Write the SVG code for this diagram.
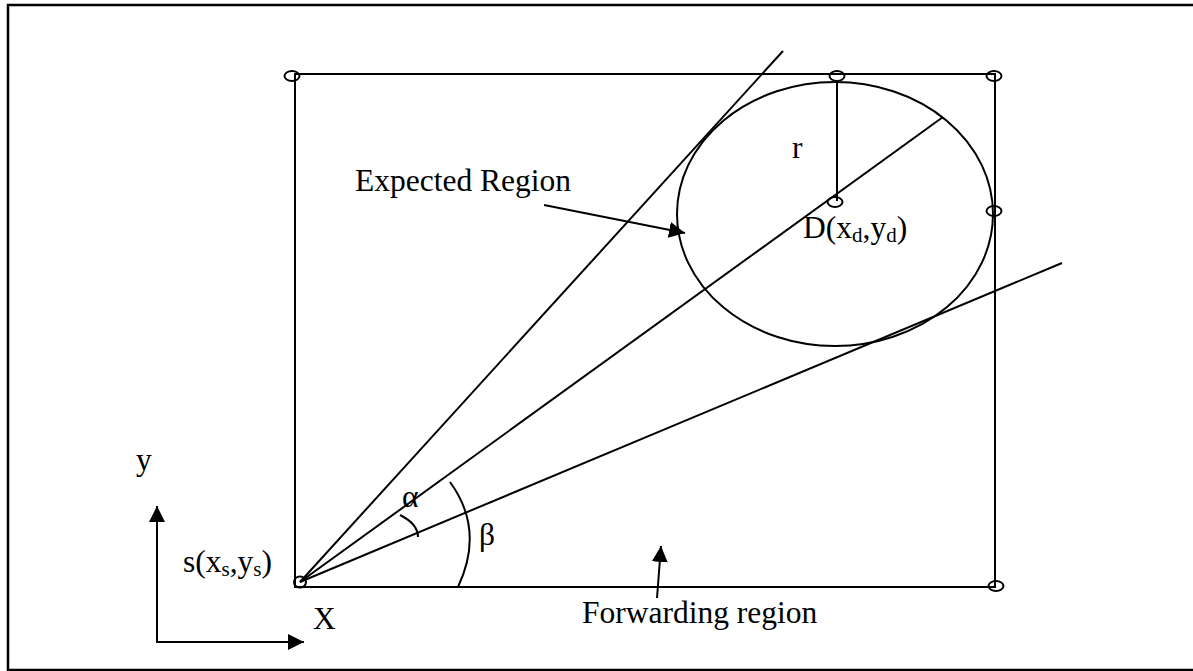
<svg xmlns="http://www.w3.org/2000/svg" width="1193" height="671" viewBox="0 0 1193 671">
<style>
.ln{stroke:#000;stroke-width:2;fill:none}
.pt{stroke:#000;stroke-width:2;fill:none}
.t{font-family:"Liberation Serif","Times New Roman",serif;font-size:31.5px;fill:#000}
.sub{font-size:21px}
</style>
<defs>
<marker id="ah" markerUnits="userSpaceOnUse" markerWidth="18" markerHeight="16" refX="16" refY="8" orient="auto">
<path d="M0,0 L16,8 L0,16 Z" fill="#000"/>
</marker>
</defs>
<rect width="1193" height="671" fill="#fff"/>
<rect x="8" y="5" width="1195" height="665" fill="none" stroke="#000" stroke-width="2.5"/>
<g id="region">
<rect x="295" y="74" width="700" height="513" class="ln"/>
</g>
<g id="expected-region">
<ellipse cx="835" cy="214" rx="158" ry="132" class="ln"/>
</g>
<g id="connectors">
<line x1="300" y1="582" x2="783" y2="51" class="ln"/>
<line x1="300" y1="582" x2="943" y2="117" class="ln"/>
<line x1="300" y1="582" x2="1062" y2="263" class="ln"/>
<line x1="837" y1="80" x2="837" y2="201" class="ln"/>
<path d="M400,515 Q418,524 418,537" class="ln"/>
<path d="M450,482 Q485,530 458,587" class="ln"/>
<line x1="544" y1="205" x2="685" y2="233" class="ln" marker-end="url(#ah)"/>
<line x1="657" y1="598" x2="661" y2="546" class="ln" marker-end="url(#ah)"/>
<polyline points="157,506 157,642 304,642" class="ln"/>
<line x1="157" y1="560" x2="157" y2="506" class="ln" marker-end="url(#ah)"/>
<line x1="250" y1="642" x2="304" y2="642" class="ln" marker-end="url(#ah)"/>
</g>
<g id="points">
<ellipse cx="292" cy="76" rx="7.5" ry="5" class="pt"/>
<ellipse cx="837" cy="76" rx="7.5" ry="5" class="pt"/>
<ellipse cx="994" cy="76" rx="7.5" ry="5" class="pt"/>
<ellipse cx="994" cy="211" rx="7.5" ry="5" class="pt"/>
<ellipse cx="835" cy="202" rx="7.5" ry="5" class="pt"/>
<ellipse cx="300" cy="582" rx="6" ry="5.5" class="pt"/>
<ellipse cx="996" cy="586" rx="7.5" ry="5" class="pt"/>
</g>
<g id="labels">
<text class="t" x="355" y="191">Expected Region</text>
<text class="t" x="792" y="158">r</text>
<text class="t" x="803" y="238">D(x<tspan class="sub" dy="4">d</tspan><tspan dy="-4">,y</tspan><tspan class="sub" dy="4">d</tspan><tspan dy="-4">)</tspan></text>
<text class="t" x="402" y="507">α</text>
<text class="t" x="479" y="545">β</text>
<text class="t" x="183" y="572">s(x<tspan class="sub" dy="4">s</tspan><tspan dy="-4">,y</tspan><tspan class="sub" dy="4">s</tspan><tspan dy="-4">)</tspan></text>
<text class="t" x="136" y="470">y</text>
<text class="t" x="313" y="629">X</text>
<text class="t" x="582" y="623">Forwarding region</text>
</g>
</svg>
